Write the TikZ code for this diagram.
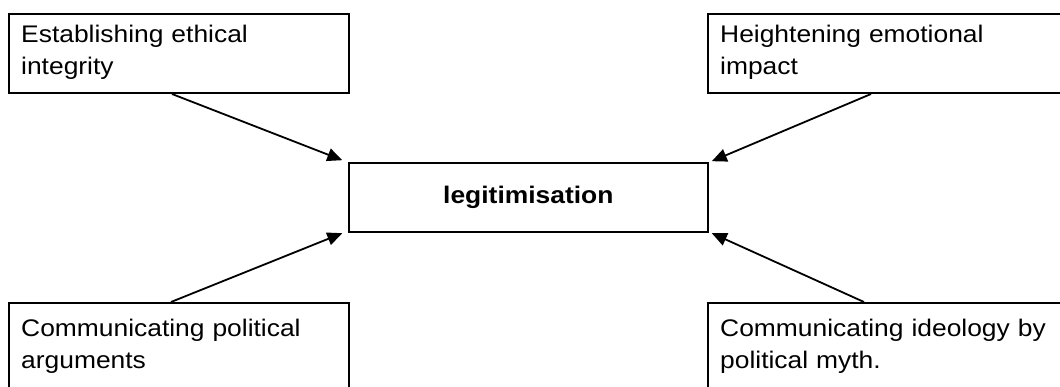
\documentclass[tikz,border=0pt]{standalone}
\usepackage{fontspec}
\setmainfont[FakeStretch=1.1]{Liberation Sans}
\usetikzlibrary{arrows.meta,calc}
\begin{document}
\begin{tikzpicture}[x=1pt,y=-1pt,
  box/.style={draw=black,line width=2pt,rectangle,inner sep=0pt},
  txt/.style={inner sep=0pt,anchor=north west,align=left,text width=345pt,
    font=\fontsize{24pt}{32pt}\selectfont},
  arr/.style={line width=1.8pt,-{Triangle[length=15pt,width=13pt]}}]
\useasboundingbox (0,0) rectangle (1060,387);
% boxes
\node[box,minimum width=340pt,minimum height=79pt] (tl) at (179,53.5) {};
\node[box,minimum width=367pt,minimum height=79pt] (tr) at (891.5,53.5) {};
\node[box,minimum width=340pt,minimum height=97pt] (bl) at (179,351.5) {};
\node[box,minimum width=367pt,minimum height=97pt] (br) at (891.5,351.5) {};
\node[box,minimum width=359pt,minimum height=69pt,
  font=\fontsize{24pt}{28pt}\selectfont\bfseries] (c) at (528.3,197.2) {legitimisation};
% texts
\node[txt] (tlt) at ($(tl.north west)+(13,12)$) {Establishing ethical\\integrity};
\node[txt] (trt) at ($(tr.north west)+(13,12)$) {Heightening emotional\\impact};
\node[txt] (blt) at ($(bl.north west)+(13,17)$) {Communicating political\\arguments};
\node[txt] (brt) at ($(br.north west)+(13,17)$) {Communicating ideology by\\political myth.};
% connectors
\coordinate (a1) at ($(tl.south west)+(164,0)$);
\coordinate (a2) at ($(tr.south west)+(164,0)$);
\coordinate (a3) at ($(bl.north west)+(163,0)$);
\coordinate (a4) at ($(br.north west)+(157,0)$);
\coordinate (e1) at ($(c.north west)+(-5.5,-1.5)$);
\coordinate (e2) at ($(c.north east)+(3,-0.5)$);
\coordinate (e3) at ($(c.south west)+(-5.5,0.5)$);
\coordinate (e4) at ($(c.south east)+(3,0.5)$);
\draw[arr] (a1) -- (e1);
\draw[arr] (a2) -- (e2);
\draw[arr] (a3) -- (e3);
\draw[arr] (a4) -- (e4);
\end{tikzpicture}
\end{document}
